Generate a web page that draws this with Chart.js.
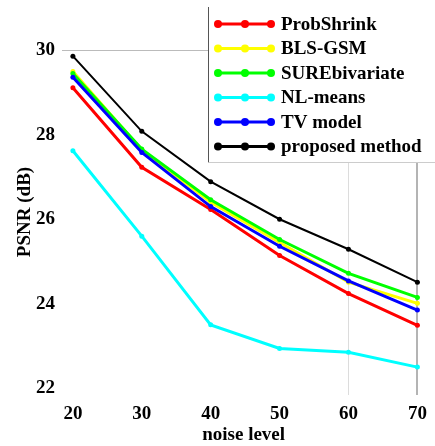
<!DOCTYPE html>
<html>
<head>
<meta charset="utf-8">
<script src="https://cdn.jsdelivr.net/npm/chart.js@4/dist/chart.umd.min.js"></script>
<style>
  html, body { margin: 0; padding: 0; background: #fff; }
  #wrap { width: 435px; height: 446px; }
</style>
</head>
<body>
<div id="wrap"><canvas id="psnr"></canvas></div>
<script>
// Data
const noiseLevels = [20, 30, 40, 50, 60, 70];
const yTicks = [22, 24, 26, 28, 30];
const probShrink = [29.11, 27.23, 26.23, 25.14, 24.24, 23.49];
const blsGsm = [29.50, 27.64, 26.40, 25.45, 24.51, 24.01];
const sureBivariate = [29.45, 27.66, 26.46, 25.52, 24.72, 24.15];
const nlMeans = [27.62, 25.60, 23.50, 22.94, 22.85, 22.50];
const tvModel = [29.36, 27.58, 26.30, 25.36, 24.54, 23.85];
const proposed = [29.86, 28.08, 26.89, 26.00, 25.29, 24.51];

const serif = '"Liberation Serif", "Times New Roman", serif';

function series(label, values, color, width, order) {
    return {
        label: label,
        data: noiseLevels.map((x, i) => ({ x: x, y: values[i] })),
        borderColor: color,
        backgroundColor: color,
        borderWidth: width,
        pointRadius: 2.5,
        pointBorderWidth: 0,
        pointBackgroundColor: color,
        tension: 0,
        order: order
    };
}

// Legend box with line + three dots, and the rotated y title
const figureExtras = {
    id: 'figureExtras',
    afterDraw(chart) {
        const c = chart.ctx;
        c.save();
        // y axis title
        c.fillStyle = '#000';
        c.font = 'bold 19px ' + serif;
        c.textAlign = 'center';
        c.textBaseline = 'middle';
        c.translate(25, 212);
        c.rotate(-Math.PI / 2);
        c.fillText('PSNR (dB)', 0, 0);
        c.restore();

        c.save();
        c.fillStyle = '#fff';
        c.fillRect(208, 7, 230, 155);
        c.strokeStyle = '#555';
        c.lineWidth = 1;
        c.beginPath();
        c.moveTo(208.5, 7);
        c.lineTo(208.5, 162.5);
        c.stroke();
        c.strokeStyle = '#ccc';
        c.beginPath();
        c.moveTo(208.5, 162.5);
        c.lineTo(435, 162.5);
        c.stroke();

        c.font = 'bold 19px ' + serif;
        c.textAlign = 'left';
        c.textBaseline = 'middle';
        chart.data.datasets.forEach((ds, i) => {
            const y = 24 + i * 24.5;
            c.strokeStyle = ds.borderColor;
            c.fillStyle = ds.borderColor;
            c.lineWidth = 3;
            c.beginPath();
            c.moveTo(218, y);
            c.lineTo(271, y);
            c.stroke();
            [218, 245, 271].forEach(px => {
                c.beginPath();
                c.arc(px, y, 4, 0, Math.PI * 2);
                c.fill();
            });
            c.fillStyle = '#000';
            c.fillText(ds.label, 281, y + 1);
        });
        c.restore();
    }
};

new Chart(document.getElementById('psnr'), {
    type: 'line',
    data: {
        datasets: [
            series('ProbShrink', probShrink, '#ff0000', 3, 3),
            series('BLS-GSM', blsGsm, '#ffff00', 3, 5),
            series('SUREbivariate', sureBivariate, '#00ff00', 3, 4),
            series('NL-means', nlMeans, '#00ffff', 3, 6),
            series('TV model', tvModel, '#0000ff', 3, 2),
            series('proposed method', proposed, '#000000', 2, 1)
        ]
    },
    options: {
        responsive: true,
        maintainAspectRatio: false,
        animation: false,
        layout: { padding: { top: 5, right: 5, left: 0, bottom: 0 } },
        plugins: {
            legend: { display: false },
            tooltip: { enabled: false }
        },
        scales: {
            x: {
                type: 'linear',
                min: 18.42,
                max: 71.15,
                afterFit: s => { s.height = 51; },
                afterBuildTicks: s => { s.ticks = noiseLevels.map(v => ({ value: v })); },
                border: { display: false },
                grid: {
                    drawTicks: false,
                    lineWidth: ctx => ctx.tick && ctx.tick.value === 70 ? 2 : 1,
                    color: ctx => ctx.tick && ctx.tick.value === 70 ? '#b4b4b4'
                        : (ctx.tick && ctx.tick.value === 60 ? '#dcdcdc' : 'rgba(0,0,0,0)')
                },
                ticks: {
                    padding: 8,
                    color: '#000',
                    font: { family: serif, size: 19, weight: 'bold' }
                },
                title: {
                    display: true,
                    text: 'noise level',
                    color: '#000',
                    padding: { top: 0, bottom: 0 },
                    font: { family: serif, size: 19, weight: 'bold' }
                }
            },
            y: {
                min: 21.84,
                max: 30.754,
                afterFit: s => { s.width = 62; },
                afterBuildTicks: s => { s.ticks = yTicks.map(v => ({ value: v })); },
                border: { display: false },
                grid: {
                    drawTicks: false,
                    color: ctx => ctx.tick && ctx.tick.value === 30 ? '#bbb' : 'rgba(0,0,0,0)'
                },
                ticks: {
                    padding: 7,
                    color: '#000',
                    font: { family: serif, size: 19, weight: 'bold' }
                }
            }
        }
    },
    plugins: [figureExtras]
});
</script>
</body>
</html>
